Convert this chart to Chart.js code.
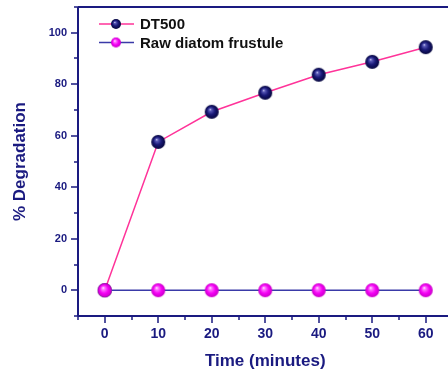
<!DOCTYPE html>
<html>
<head>
<meta charset="utf-8">
<script src="https://cdn.jsdelivr.net/npm/chart.js@4/dist/chart.umd.min.js"></script>
<style>
    html, body { margin: 0; padding: 0; background: #fff; overflow: hidden; }
    #wrap { width: 458px; height: 374px; }
</style>
</head>
<body>
<div id="wrap"><canvas id="degChart" width="458" height="374"></canvas></div>
<script>
// time points (minutes) and % degradation
const timeMin = [0, 10, 20, 30, 40, 50, 60];
const dt500 = [0, 57.6, 69.3, 76.7, 83.7, 88.7, 94.4];
const rawFrustule = [0, 0, 0, 0, 0, 0, 0];
const seriesNames = ['DT500', 'Raw diatom frustule'];
const xTickVals = [0, 10, 20, 30, 40, 50, 60];
const yTickVals = [0, 20, 40, 60, 80, 100];

const AXIS = '#1a1a80';
const FONT = 'Arial, "Liberation Sans", sans-serif';

// shaded ball used as marker
function ball(r, stops) {
    const c = document.createElement('canvas');
    c.width = c.height = r * 2 + 2;
    const g = c.getContext('2d');
    const cx = r + 1, cy = r + 1;
    const grad = g.createRadialGradient(cx - r * 0.25, cy - r * 0.35, 0, cx, cy, r);
    stops.forEach(s => grad.addColorStop(s[0], s[1]));
    g.fillStyle = grad;
    g.beginPath();
    g.arc(cx, cy, r, 0, Math.PI * 2);
    g.fill();
    return c;
}
const navyStops = [[0, '#e6e6ff'], [0.18, '#5a5ab8'], [0.55, '#1a1a78'], [1, '#05053c']];
const pinkStops = [[0, '#ffffff'], [0.2, '#ff7aff'], [0.6, '#f500f5'], [1, '#c800c8']];
const navyBall = ball(7, navyStops), pinkBall = ball(7, pinkStops);
const navyBallSm = ball(5, navyStops), pinkBallSm = ball(5, pinkStops);

function pts(ys) {
    return timeMin.map((t, i) => ({ x: t, y: ys[i] }));
}

// axes frame, tick marks and legend
const framePlugin = {
    id: 'frame',
    afterDraw(chart) {
        const { ctx, chartArea: a, scales: { x, y } } = chart;
        ctx.save();
        ctx.strokeStyle = AXIS;
        ctx.lineWidth = 2;
        ctx.beginPath();
        ctx.moveTo(a.left, a.top); ctx.lineTo(a.left, a.bottom);
        ctx.moveTo(a.left, a.bottom); ctx.lineTo(a.right, a.bottom);
        ctx.moveTo(a.left, a.top); ctx.lineTo(a.right, a.top);
        ctx.moveTo(a.right, a.top); ctx.lineTo(a.right, a.bottom);
        ctx.stroke();
        ctx.lineWidth = 1.5;
        ctx.beginPath();
        for (let v = -5; v <= 65; v += 5) {
            const px = Math.round(x.getPixelForValue(v));
            const len = v % 10 === 0 ? 7 : 4;
            ctx.moveTo(px, a.bottom); ctx.lineTo(px, a.bottom + len);
        }
        for (let v = -10; v <= 110; v += 10) {
            const py = Math.round(y.getPixelForValue(v));
            const len = v % 20 === 0 ? 7 : 4;
            ctx.moveTo(a.left, py); ctx.lineTo(a.left - len, py);
        }
        ctx.stroke();

        // legend
        const lineCols = [chart.data.datasets[0].borderColor, chart.data.datasets[1].borderColor];
        const balls = [navyBallSm, pinkBallSm];
        ctx.font = 'bold 15px ' + FONT;
        ctx.textBaseline = 'middle';
        ctx.fillStyle = '#111';
        seriesNames.forEach((name, i) => {
            const cy = 24 + i * 18.5;
            ctx.strokeStyle = lineCols[i];
            ctx.lineWidth = 1.5;
            ctx.beginPath();
            ctx.moveTo(99, cy); ctx.lineTo(134, cy);
            ctx.stroke();
            ctx.drawImage(balls[i], 116 - balls[i].width / 2, cy - balls[i].height / 2);
            ctx.fillText(name, 140, cy + 1);
        });
        ctx.restore();
    }
};

new Chart(document.getElementById('degChart'), {
    type: 'line',
    data: {
        datasets: [{
            label: seriesNames[0],
            data: pts(dt500),
            borderColor: '#ff3399',
            borderWidth: 1.5,
            pointStyle: navyBall,
            order: 2
        }, {
            label: seriesNames[1],
            data: pts(rawFrustule),
            borderColor: '#3a3aa8',
            borderWidth: 1.5,
            pointStyle: pinkBall,
            order: 1
        }]
    },
    options: {
        responsive: false,
        animation: false,
        layout: { padding: { top: 7, left: 0, right: 0, bottom: 0 } },
        plugins: {
            legend: { display: false },
            tooltip: { enabled: false }
        },
        scales: {
            x: {
                type: 'linear',
                min: -5,
                max: 65,
                afterBuildTicks: s => { s.ticks = xTickVals.map(v => ({ value: v })); },
                afterFit: s => { s.height = 58; s.paddingLeft = 0; s.paddingRight = 0; },
                grid: { display: false, drawTicks: false },
                border: { display: false },
                ticks: {
                    padding: 10,
                    color: AXIS,
                    font: { family: FONT, size: 14, weight: 'bold' }
                },
                title: {
                    display: true,
                    text: 'Time (minutes)',
                    color: AXIS,
                    padding: { top: 0, bottom: 2 },
                    font: { family: FONT, size: 17, weight: 'bold' }
                }
            },
            y: {
                min: -10,
                max: 110,
                afterBuildTicks: s => { s.ticks = yTickVals.map(v => ({ value: v })); },
                afterFit: s => { s.width = 78; s.paddingTop = 0; s.paddingBottom = 0; },
                grid: { display: false, drawTicks: false },
                border: { display: false },
                ticks: {
                    padding: 11,
                    color: AXIS,
                    font: { family: FONT, size: 11, weight: 'bold' }
                },
                title: {
                    display: true,
                    text: '% Degradation',
                    color: AXIS,
                    padding: { top: 10, bottom: 0 },
                    font: { family: FONT, size: 17, weight: 'bold' }
                }
            }
        }
    },
    plugins: [framePlugin]
});
</script>
</body>
</html>
